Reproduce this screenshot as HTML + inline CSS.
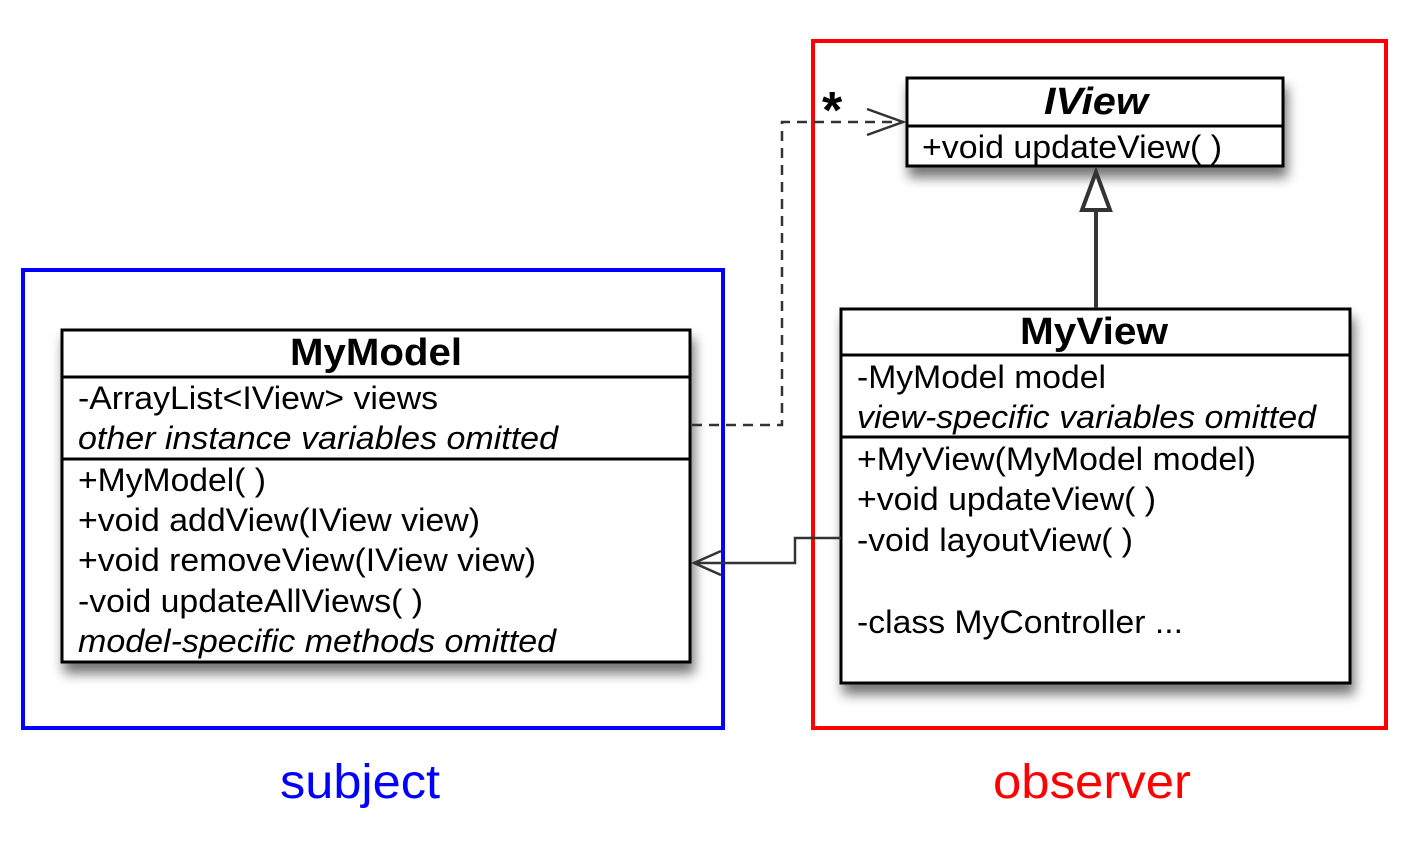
<!DOCTYPE html>
<html><head><meta charset="utf-8"><style>
html,body{margin:0;padding:0;background:#fff;}
svg{display:block;}
text{font-family:"Liberation Sans",Arial,sans-serif;fill:#000;}
</style></head><body>
<svg width="1410" height="860" viewBox="0 0 1410 860" xmlns="http://www.w3.org/2000/svg">
<defs>
<filter id="sh" x="-10%" y="-10%" width="130%" height="140%">
<feGaussianBlur in="SourceAlpha" stdDeviation="6"/>
<feOffset dx="3" dy="10" result="b"/>
<feComponentTransfer><feFuncA type="linear" slope="0.55"/></feComponentTransfer>
<feMerge><feMergeNode/><feMergeNode in="SourceGraphic"/></feMerge>
</filter>
</defs>
<rect x="23" y="270" width="700" height="458" fill="none" stroke="#0000ff" stroke-width="4"/>
<rect x="813" y="41" width="573" height="687" fill="none" stroke="#ff0000" stroke-width="4"/>

<rect x="62" y="330" width="628" height="332" fill="#fff" stroke="#000" stroke-width="3" filter="url(#sh)"/>
<line x1="62" y1="377" x2="690" y2="377" stroke="#000" stroke-width="3"/>
<line x1="62" y1="459" x2="690" y2="459" stroke="#000" stroke-width="3"/>
<text x="376" y="365" font-size="38" font-weight="bold" text-anchor="middle" textLength="172" lengthAdjust="spacingAndGlyphs">MyModel</text>
<g font-size="32">
<text x="78" y="409" textLength="360" lengthAdjust="spacingAndGlyphs">-ArrayList&lt;IView&gt; views</text>
<text x="78" y="449" font-style="italic" textLength="480" lengthAdjust="spacingAndGlyphs">other instance variables omitted</text>
<text x="78" y="491" textLength="188" lengthAdjust="spacingAndGlyphs">+MyModel( )</text>
<text x="78" y="531" textLength="402" lengthAdjust="spacingAndGlyphs">+void addView(IView view)</text>
<text x="78" y="571" textLength="458" lengthAdjust="spacingAndGlyphs">+void removeView(IView view)</text>
<text x="78" y="612" textLength="345" lengthAdjust="spacingAndGlyphs">-void updateAllViews( )</text>
<text x="78" y="652" font-style="italic" textLength="478" lengthAdjust="spacingAndGlyphs">model-specific methods omitted</text>
</g>

<rect x="907" y="78" width="376" height="88" fill="#fff" stroke="#000" stroke-width="3" filter="url(#sh)"/>
<line x1="907" y1="126" x2="1283" y2="126" stroke="#000" stroke-width="3"/>
<text x="1096" y="114" font-size="38" font-weight="bold" font-style="italic" text-anchor="middle" textLength="104" lengthAdjust="spacingAndGlyphs">IView</text>
<text x="922" y="158" font-size="32" textLength="300" lengthAdjust="spacingAndGlyphs">+void updateView( )</text>

<rect x="841" y="309" width="509" height="374" fill="#fff" stroke="#000" stroke-width="3" filter="url(#sh)"/>
<line x1="841" y1="355" x2="1350" y2="355" stroke="#000" stroke-width="3"/>
<line x1="841" y1="437" x2="1350" y2="437" stroke="#000" stroke-width="3"/>
<text x="1094" y="344" font-size="38" font-weight="bold" text-anchor="middle" textLength="148" lengthAdjust="spacingAndGlyphs">MyView</text>
<g font-size="32">
<text x="857" y="388" textLength="249" lengthAdjust="spacingAndGlyphs">-MyModel model</text>
<text x="857" y="428" font-style="italic" textLength="459" lengthAdjust="spacingAndGlyphs">view-specific variables omitted</text>
<text x="857" y="470" textLength="399" lengthAdjust="spacingAndGlyphs">+MyView(MyModel model)</text>
<text x="857" y="510" textLength="299" lengthAdjust="spacingAndGlyphs">+void updateView( )</text>
<text x="857" y="551" textLength="276" lengthAdjust="spacingAndGlyphs">-void layoutView( )</text>
<text x="857" y="633" textLength="326" lengthAdjust="spacingAndGlyphs">-class MyController ...</text>
</g>

<line x1="1096" y1="308" x2="1096" y2="210" stroke="#333" stroke-width="4"/>
<polygon points="1096,172 1082,210 1110,210" fill="#fff" stroke="#333" stroke-width="4"/>

<polyline points="692,425 782,425 782,122 903,122" fill="none" stroke="#333" stroke-width="2.5" stroke-dasharray="10,7"/>
<polyline points="867,109 903,122 867,135" fill="none" stroke="#333" stroke-width="2.5"/>
<text x="822" y="128" font-size="52" font-weight="bold">*</text>

<polyline points="841,538 795,538 795,563 694,563" fill="none" stroke="#333" stroke-width="2.5"/>
<polyline points="721,551 694,563 721,575" fill="none" stroke="#333" stroke-width="2.5"/>

<text x="360" y="798" font-size="48" text-anchor="middle" textLength="160" lengthAdjust="spacingAndGlyphs" style="fill:#0000ff">subject</text>
<text x="1092" y="798" font-size="48" text-anchor="middle" textLength="198" lengthAdjust="spacingAndGlyphs" style="fill:#ff0000">observer</text>
</svg>
</body></html>
